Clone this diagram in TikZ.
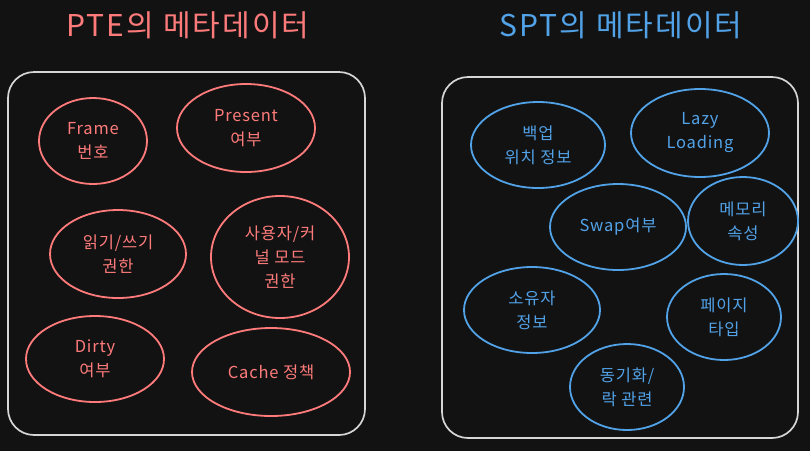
\documentclass[tikz,border=0pt]{standalone}
\usepackage{fontspec}
\setmainfont{Noto Sans CJK KR}
\usetikzlibrary{shapes.geometric}

\definecolor{bgdark}{HTML}{121212}
\definecolor{ptered}{HTML}{FF7B7B}
\definecolor{sptblue}{HTML}{52A2E8}
\definecolor{framegray}{HTML}{D6D6D6}

\tikzset{
  metabox/.style={draw=framegray, line width=1.7pt, rounded corners=26pt},
  heading/.style={font=\fontsize{30}{32}\selectfont\addfontfeatures{LetterSpace=7}},
  item/.style={ellipse, line width=1.8pt, inner sep=0pt, align=center,
    font=\fontsize{16.5}{24}\selectfont\addfontfeatures{LetterSpace=5}},
  pteitem/.style={item, draw=ptered, text=ptered},
  sptitem/.style={item, draw=sptblue, text=sptblue}
}

\begin{document}
\begin{tikzpicture}[x=1pt, y=-1pt]
  % Hintergrund
  \fill[bgdark] (0,0) rectangle (810,451);
  \useasboundingbox (0,0) rectangle (810,451);

  % Titel
  \node[heading, text=ptered] (ptetitle) at (188,25) {PTE의 메타데이터};
  \node[heading, text=sptblue] (spttitle) at (621,25) {SPT의 메타데이터};

  % Rahmen
  \draw[metabox] (8,72) rectangle (365,435);
  \draw[metabox] (442,77) rectangle (798,438);

  % PTE
  \node[pteitem, minimum width=108pt, minimum height=86pt] (frame) at (93,141) {Frame\\번호};
  \node[pteitem, minimum width=138pt, minimum height=88pt] (present) at (246,128) {Present\\여부};
  \node[pteitem, minimum width=136pt, minimum height=88pt] (rw) at (118,254) {읽기/쓰기\\권한};
  \node[pteitem, minimum width=138pt, minimum height=122pt] (mode) at (280,257) {사용자/커\\널 모드\\권한};
  \node[pteitem, minimum width=138pt, minimum height=86pt] (dirty) at (95,359) {Dirty\\여부};
  \node[pteitem, minimum width=158pt, minimum height=88pt] (cache) at (271,372) {Cache 정책};

  % SPT
  \node[sptitem, minimum width=134pt, minimum height=86pt] (backup) at (538,145) {백업\\위치 정보};
  \node[sptitem, minimum width=138pt, minimum height=88pt] (lazy) at (700,133) {Lazy\\Loading};
  \node[sptitem, minimum width=136pt, minimum height=86pt] (swap) at (618,227) {Swap여부};
  \node[sptitem, minimum width=110pt, minimum height=88pt] (memattr) at (743,221) {메모리\\속성};
  \node[sptitem, minimum width=136pt, minimum height=86pt] (owner) at (532,310) {소유자\\정보};
  \node[sptitem, minimum width=114pt, minimum height=86pt] (pagetype) at (724,317) {페이지\\타입};
  \node[sptitem, minimum width=114pt, minimum height=86pt] (sync) at (627,387) {동기화/\\락 관련};
\end{tikzpicture}
\end{document}
